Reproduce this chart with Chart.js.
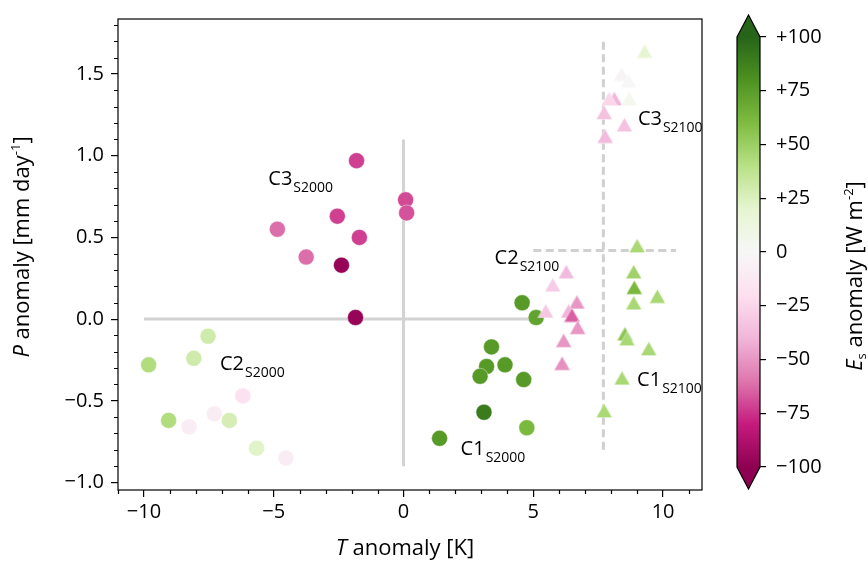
<!DOCTYPE html>
<html>
<head>
<meta charset="utf-8">
<script src="https://cdn.jsdelivr.net/npm/chart.js@4.4.0/dist/chart.umd.min.js"></script>
<style>
  body { margin: 0; background: #fff; }
  #wrap { position: relative; width: 868px; height: 562px; }
  canvas { position: absolute; top: 0; }
</style>
</head>
<body>
<div id="wrap">
  <canvas id="main" width="868" height="562" style="left:0"></canvas>
  <canvas id="cbar" width="148" height="562" style="left:720px"></canvas>
</div>
<script>
// S2000 runs (circles)
const t2000 = [-1.81, 0.08, 0.12, -2.55, -1.70, -4.86, -3.75, -2.39, -1.85,
  -7.53, -9.82, -8.08, -6.19, -7.29, -9.05, -8.26, -6.71, -5.66, -4.53,
  4.57, 5.11, 3.39, 3.91, 3.20, 2.95, 4.63, 3.10, 4.75, 1.39];
const p2000 = [0.97, 0.73, 0.65, 0.63, 0.50, 0.55, 0.38, 0.33, 0.01,
  -0.105, -0.28, -0.24, -0.47, -0.58, -0.62, -0.66, -0.62, -0.79, -0.85,
  0.10, 0.01, -0.17, -0.28, -0.29, -0.35, -0.37, -0.57, -0.665, -0.73];
const es2000 = [-72, -70, -68, -72, -72, -62, -62, -97, -97,
  30, 42, 30, -18, -10, 42, -10, 27, 22, -10,
  76, 72, 76, 76, 76, 76, 76, 90, 62, 76];

// S2100 runs (triangles)
const t2100 = [9.0, 6.27, 5.75, 8.87, 8.89, 8.87, 9.78, 6.68, 5.48, 6.36, 6.49, 6.71, 8.53, 8.61, 6.17, 9.45, 6.11, 8.42, 7.73,
  9.29, 8.40, 8.67, 8.12, 7.92, 8.69, 7.73, 8.51, 7.77];
const p2100 = [0.45, 0.29, 0.21, 0.29, 0.195, 0.10, 0.14, 0.105, 0.05, 0.05, 0.025, -0.05, -0.09, -0.12, -0.13, -0.18, -0.27, -0.36, -0.56,
  1.64, 1.50, 1.46, 1.35, 1.35, 1.35, 1.265, 1.19, 1.12];
const es2100 = [45, -38, -30, 48, 62, 45, 45, -50, -32, -40, -65, -50, 55, 45, -50, 45, -52, 45, 45,
  18, -3, 0, -40, -25, 5, -35, -35, -38];

// reference lines
const solidH = [[-10, 0], [5, 0]];
const solidV = [[0, -0.9], [0, 1.1]];
const dashedV = [[7.7, -0.8], [7.7, 1.7]];
const dashedH = [[5, 0.42], [10.5, 0.42]];

// cluster labels
const clusterLabels = [
  { main: "C3", sub: "S2000", x: -5.21, y: 0.82 },
  { main: "C2", sub: "S2000", x: -7.07, y: -0.31 },
  { main: "C1", sub: "S2000", x: 2.2, y: -0.83 },
  { main: "C2", sub: "S2100", x: 3.51, y: 0.34 },
  { main: "C1", sub: "S2100", x: 9.0, y: -0.41 },
  { main: "C3", sub: "S2100", x: 9.03, y: 1.19 }
];

const xTicks = [-10, -5, 0, 5, 10];
const yTicks = [-1.0, -0.5, 0.0, 0.5, 1.0, 1.5];
const cbTicks = [-100, -75, -50, -25, 0, 25, 50, 75, 100];

const FONT = "Open Sans";
const piyg = ["#8e0152", "#c51b7d", "#de77ae", "#f1b6da", "#fde0ef", "#f7f7f7",
  "#e6f5d0", "#b8e186", "#7fbc41", "#4d9221", "#276419"];

function hexRgb(h) {
  return [1, 3, 5].map((i) => parseInt(h.slice(i, i + 2), 16));
}

function cmap(v) {
  const t = (Math.max(-100, Math.min(100, v)) + 100) / 200 * 10;
  const i = Math.min(9, Math.floor(t));
  const f = t - i;
  const a = hexRgb(piyg[i]);
  const b = hexRgb(piyg[i + 1]);
  const c = a.map((x, k) => Math.round(x + (b[k] - x) * f));
  return `rgb(${c[0]},${c[1]},${c[2]})`;
}

// matplotlib-like '^' marker, centred on its box
const triCache = {};
function triangle(color) {
  if (triCache[color]) return triCache[color];
  const c = document.createElement("canvas");
  c.width = 17;
  c.height = 15;
  const g = c.getContext("2d");
  g.beginPath();
  g.moveTo(8.5, 0.5);
  g.lineTo(16.5, 14.5);
  g.lineTo(0.5, 14.5);
  g.closePath();
  g.fillStyle = color;
  g.fill();
  g.strokeStyle = "rgba(255,255,255,0.7)";
  g.lineWidth = 0.6;
  g.stroke();
  triCache[color] = c;
  return c;
}

function pts(xs, ys) {
  return xs.map((x, i) => ({ x: x, y: ys[i] }));
}

function seg(arr) {
  return arr.map(([x, y]) => ({ x, y }));
}

function minus(s) {
  return String(s).replace("-", "\u2212");
}

// text with mixed fonts (italic, sub/superscripts)
function drawRich(ctx, parts, x, y, rot) {
  ctx.save();
  ctx.translate(x, y);
  ctx.rotate(rot);
  ctx.textBaseline = "alphabetic";
  ctx.textAlign = "left";
  ctx.fillStyle = "#000";
  let total = 0;
  parts.forEach((p) => {
    ctx.font = p.font;
    p.w = ctx.measureText(p.text).width;
    total += p.w;
  });
  let cx = -total / 2;
  parts.forEach((p) => {
    ctx.font = p.font;
    ctx.fillText(p.text, cx, p.dy || 0);
    cx += p.w;
  });
  ctx.restore();
}

const lineStyle = { showLine: true, pointRadius: 0, borderWidth: 3, fill: false, order: 5 };

const mainExtras = {
  id: "mainExtras",
  afterDatasetsDraw(chart) {
    const ctx = chart.ctx;
    const xs = chart.scales.x;
    const ys = chart.scales.y;
    ctx.save();
    ctx.fillStyle = "#000";
    ctx.textBaseline = "alphabetic";
    clusterLabels.forEach((l) => {
      const px = xs.getPixelForValue(l.x);
      const py = ys.getPixelForValue(l.y);
      ctx.font = `20px '${FONT}'`;
      ctx.fillText(l.main, px, py);
      const w = ctx.measureText(l.main).width;
      ctx.font = `14px '${FONT}'`;
      ctx.fillText(l.sub, px + w + 1, py + 7);
    });
    ctx.restore();
  },
  afterDraw(chart) {
    const ctx = chart.ctx;
    const a = chart.chartArea;
    const xs = chart.scales.x;
    const ys = chart.scales.y;
    ctx.save();
    ctx.strokeStyle = "#000";
    ctx.lineWidth = 1.2;
    // minor ticks
    ctx.beginPath();
    for (let v = -11; v <= 11; v++) {
      if (v % 5 === 0) continue;
      const px = Math.round(xs.getPixelForValue(v)) + 0.5;
      ctx.moveTo(px, a.bottom);
      ctx.lineTo(px, a.bottom + 4);
    }
    for (let k = -10; k <= 18; k++) {
      if (k % 5 === 0) continue;
      const py = Math.round(ys.getPixelForValue(k / 10)) + 0.5;
      ctx.moveTo(a.left, py);
      ctx.lineTo(a.left - 4, py);
    }
    ctx.stroke();
    // frame
    ctx.strokeRect(a.left, a.top, a.right - a.left, a.bottom - a.top);
    ctx.restore();

    drawRich(ctx, [
      { text: "T", font: `italic 22px '${FONT}'` },
      { text: " anomaly [K]", font: `22px '${FONT}'` }
    ], 405, 555, 0);
    drawRich(ctx, [
      { text: "P", font: `italic 22px '${FONT}'` },
      { text: " anomaly [mm day", font: `22px '${FONT}'` },
      { text: "-1", font: `13px '${FONT}'`, dy: -9 },
      { text: "]", font: `22px '${FONT}'` }
    ], 29, 247, -Math.PI / 2);
  }
};

new Chart(document.getElementById("main"), {
  type: "scatter",
  data: {
    datasets: [
      {
        data: pts(t2000, p2000),
        pointStyle: "circle",
        pointRadius: 8,
        backgroundColor: (c) => cmap(es2000[c.dataIndex]),
        borderColor: "rgba(255,255,255,0.7)",
        borderWidth: 0.6,
        order: 1
      },
      {
        data: pts(t2100, p2100),
        pointStyle: (c) => triangle(cmap(es2100[c.dataIndex])),
        pointRadius: 8,
        order: 0
      },
      Object.assign({ data: seg(solidH), borderColor: "#d3d3d3" }, lineStyle),
      Object.assign({ data: seg(solidV), borderColor: "#d3d3d3" }, lineStyle),
      Object.assign({ data: seg(dashedV), borderColor: "#d0d0d0", borderDash: [8, 4.5], borderWidth: 2.6 }, lineStyle),
      Object.assign({ data: seg(dashedH), borderColor: "#d0d0d0", borderDash: [8, 4.5], borderWidth: 2.6 }, lineStyle)
    ]
  },
  options: {
    responsive: false,
    animation: false,
    devicePixelRatio: 1,
    layout: { padding: { left: 0, right: 166, top: 16, bottom: 0 } },
    plugins: { legend: { display: false }, tooltip: { enabled: false } },
    scales: {
      x: {
        type: "linear",
        min: -11,
        max: 11.5,
        afterBuildTicks: (s) => { s.ticks = xTicks.map((v) => ({ value: v })); },
        afterFit: (s) => { s.height = 72; },
        ticks: { font: { family: FONT, size: 20 }, color: "#000", padding: 3, maxRotation: 0, callback: (v) => minus(v) },
        grid: { drawOnChartArea: false, tickLength: 7, color: "#000", lineWidth: 1.2 },
        border: { display: false }
      },
      y: {
        type: "linear",
        min: -1.046,
        max: 1.837,
        afterBuildTicks: (s) => { s.ticks = yTicks.map((v) => ({ value: v })); },
        afterFit: (s) => { s.width = 118; },
        ticks: { font: { family: FONT, size: 20 }, color: "#000", padding: 7, callback: (v) => minus(v.toFixed(1)) },
        grid: { drawOnChartArea: false, tickLength: 7, color: "#000", lineWidth: 1.2 },
        border: { display: false }
      }
    }
  },
  plugins: [mainExtras]
});

// colorbar: one floating bar from -100 to +100, painted with the colormap
const cbExtras = {
  id: "cbExtras",
  afterDatasetsDraw(chart) {
    const ctx = chart.ctx;
    const ys = chart.scales.y;
    const bar = chart.getDatasetMeta(0).data[0];
    const p = bar.getProps(["x", "width"], true);
    const left = p.x - p.width / 2;
    const right = p.x + p.width / 2;
    const top = ys.getPixelForValue(100);
    const bot = ys.getPixelForValue(-100);
    const cx = p.x;
    const ext = 22;
    ctx.save();
    const g = ctx.createLinearGradient(0, bot, 0, top);
    piyg.forEach((col, i) => g.addColorStop(i / 10, col));
    ctx.fillStyle = g;
    ctx.fillRect(left, top, right - left, bot - top);
    ctx.fillStyle = cmap(100);
    ctx.beginPath();
    ctx.moveTo(left, top);
    ctx.lineTo(cx, top - ext);
    ctx.lineTo(right, top);
    ctx.closePath();
    ctx.fill();
    ctx.fillStyle = cmap(-100);
    ctx.beginPath();
    ctx.moveTo(left, bot);
    ctx.lineTo(cx, bot + ext);
    ctx.lineTo(right, bot);
    ctx.closePath();
    ctx.fill();
    ctx.strokeStyle = "#000";
    ctx.lineWidth = 1.2;
    ctx.beginPath();
    ctx.moveTo(left, top);
    ctx.lineTo(cx, top - ext);
    ctx.lineTo(right, top);
    ctx.lineTo(right, bot);
    ctx.lineTo(cx, bot + ext);
    ctx.lineTo(left, bot);
    ctx.closePath();
    ctx.stroke();
    ctx.restore();

    drawRich(ctx, [
      { text: "E", font: `italic 22px '${FONT}'` },
      { text: "s", font: `13px '${FONT}'`, dy: 4 },
      { text: " anomaly [W m", font: `22px '${FONT}'` },
      { text: "-2", font: `13px '${FONT}'`, dy: -9 },
      { text: "]", font: `22px '${FONT}'` }
    ], 142, 276, -Math.PI / 2);
  }
};

new Chart(document.getElementById("cbar"), {
  type: "bar",
  data: {
    labels: ["Es"],
    datasets: [{
      data: [[-100, 100]],
      barPercentage: 1,
      categoryPercentage: 1,
      borderWidth: 0,
      backgroundColor: "rgba(0,0,0,0)"
    }]
  },
  options: {
    responsive: false,
    animation: false,
    devicePixelRatio: 1,
    layout: { padding: { left: 17, right: 0, top: 37, bottom: 95 } },
    plugins: { legend: { display: false }, tooltip: { enabled: false } },
    scales: {
      x: { display: false },
      y: {
        position: "right",
        min: -100,
        max: 100,
        afterBuildTicks: (s) => { s.ticks = cbTicks.map((v) => ({ value: v })); },
        afterFit: (s) => { s.width = 108; },
        ticks: {
          font: { family: FONT, size: 20 },
          color: "#000",
          padding: 10,
          callback: (v) => (v > 0 ? "+" + v : minus(v))
        },
        grid: { drawOnChartArea: false, tickLength: 6, color: "#000", lineWidth: 1.2 },
        border: { display: false }
      }
    }
  },
  plugins: [cbExtras]
});
</script>
</body>
</html>
